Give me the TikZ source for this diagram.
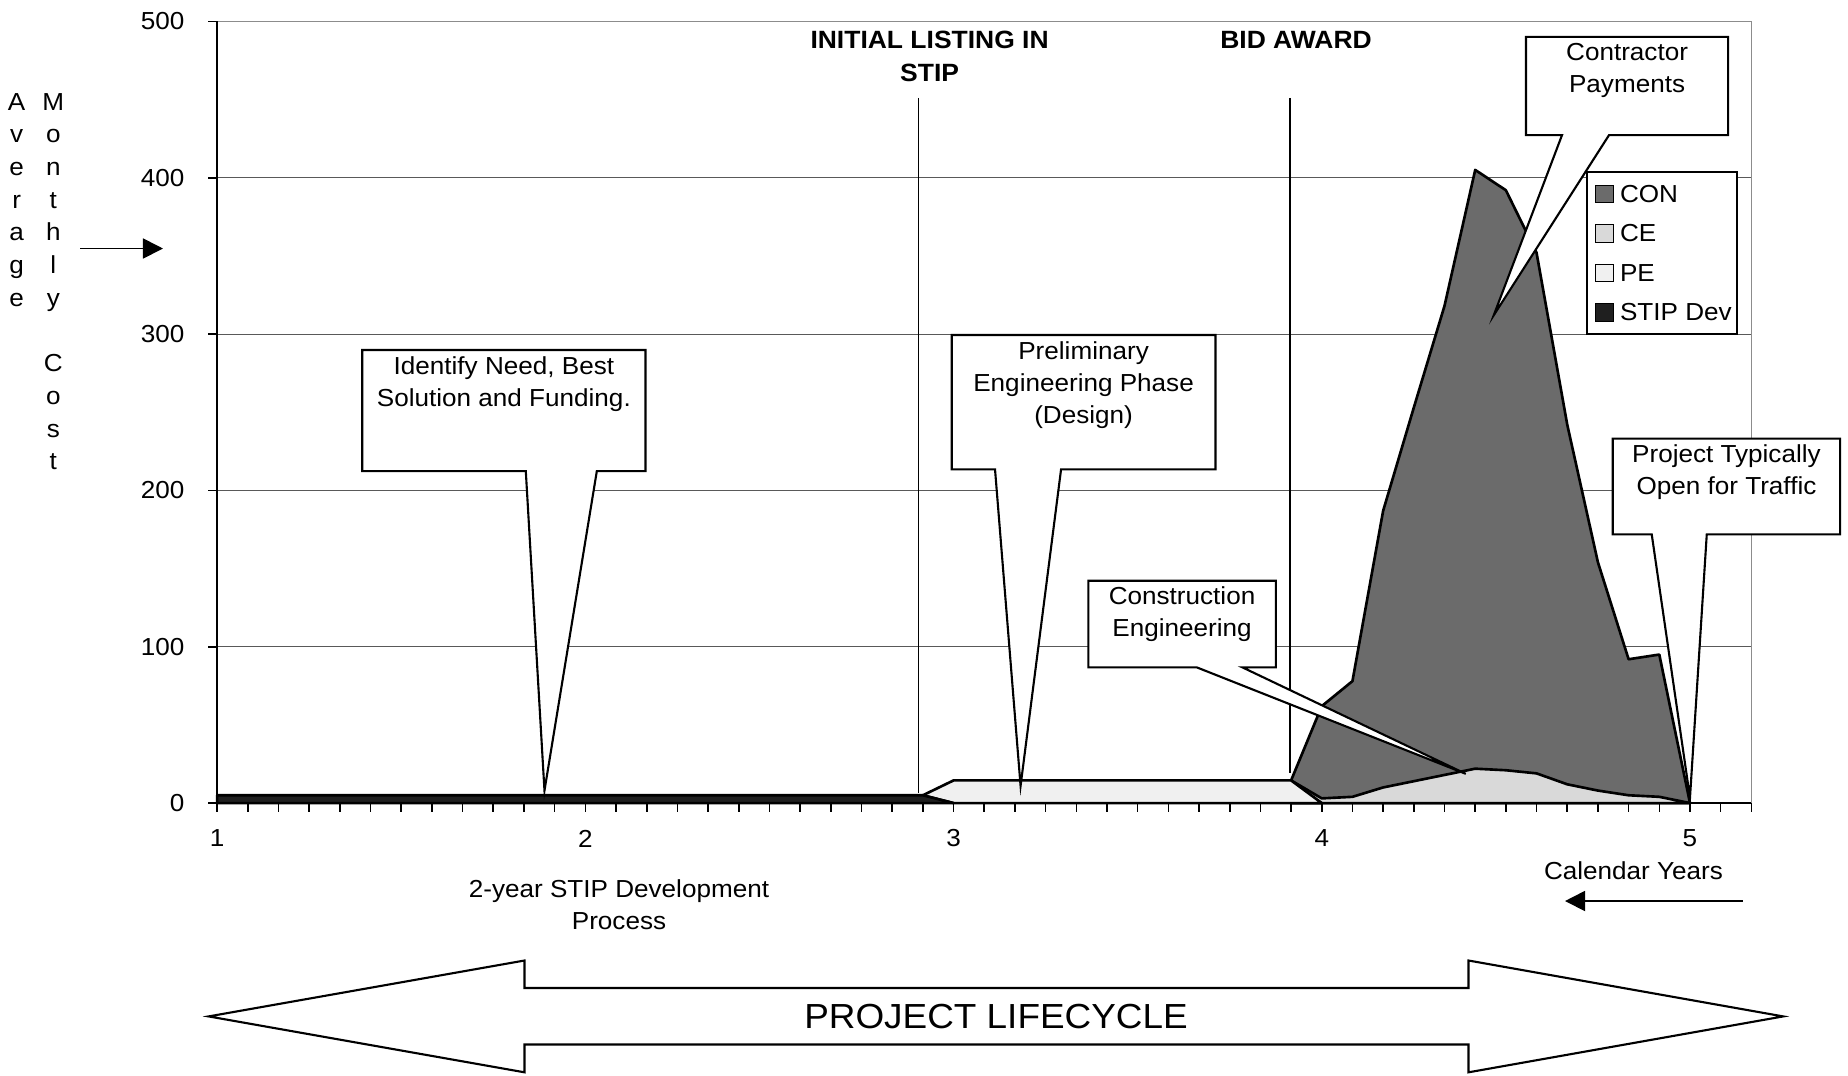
\documentclass[tikz,border=0pt]{standalone}
\usepackage{fontspec}
\setmainfont{Liberation Sans}[FakeStretch=1.06]
\usetikzlibrary{arrows.meta,calc}

\colorlet{confill}{black!58}
\colorlet{cefill}{black!15}
\colorlet{pefill}{black!6}
\colorlet{stipfill}{black!88}

\newcommand{\chartfont}{\fontsize{7}{9.1}\selectfont}
\newcommand{\headfont}{\fontsize{7.1}{9.3}\selectfont\bfseries}
\newcommand{\lifefont}{\fontsize{9.9}{12}\selectfont}

% box outline with its wedge: #1 box, #2/#3 base of wedge from the left side, #4 tip
\newcommand{\calloutpointer}[4]{%
  \fill[white] ([xshift=#2]#1.south west) -- (#4) -- ([xshift=#3]#1.south west) -- cycle;
  \draw[callout line] ([xshift=#2]#1.south west) -- (#4) -- ([xshift=#3]#1.south west)
    -- (#1.south east) -- (#1.north east) -- (#1.north west) -- (#1.south west) -- cycle;
}

\tikzset{
  grid line/.style={black!65, line width=0.3pt},
  frame line/.style={black!45, line width=0.4pt},
  axis line/.style={black, line width=0.45pt},
  area line/.style={draw=black, line width=0.75pt, line join=round},
  marker line/.style={black, line width=0.4pt},
  callout box/.style={fill=white, inner sep=0pt, outer sep=0pt, anchor=north west},
  callout line/.style={line width=0.6pt, line join=miter},
  callout text/.style={font=\chartfont, align=center, anchor=north, inner sep=0pt},
  head text/.style={font=\headfont, align=center, anchor=north, inner sep=0pt},
  legend key/.style={draw, line width=0.35pt, minimum size=0.176cm, inner sep=0pt},
  legend label/.style={anchor=west, inner sep=0pt},
  pointer arrow/.style={line width=0.5pt, -{Triangle[length=0.2cm, width=0.2cm]}}
}

\begin{document}
\begin{tikzpicture}[x=0.01cm, y=-0.01cm, every node/.style={font=\chartfont}]
\useasboundingbox (0,0) rectangle (1848,1075);

% chart, in years and cost
\begin{scope}[shift={(-1.51cm,-8.026cm)}, x=3.68cm, y=0.01563cm]
\foreach \v in {100,200,300,400}
  \draw[grid line] (1,\v) -- (5.1667,\v);
\draw[frame line] (1,500) -- (5.1667,500) -- (5.1667,0);
\draw[axis line] (1,0) -- (1,500);
\draw[axis line] (1,0) -- (5.1667,0);
\foreach \v in {0,100,...,500} {
  \draw[axis line] (1,\v) -- ++(-0.09cm,0);
  \node[anchor=east, inner sep=0pt] (ylab\v) at ([xshift=-0.32cm]1,\v) {\v};
}
\foreach \m in {0,...,50}
  \draw[axis line] ({1+\m/12},0) -- ++(0,-0.085cm);
\foreach \k in {1,...,5}
  \node (xlab\k) at (\k,-22.6) {\k};

% stacked areas
\filldraw[fill=confill, area line] (3.9167,14.5) -- (4,62) -- (4.0833,78) -- (4.1667,187)
  -- (4.25,253) -- (4.3333,318) -- (4.4167,405) -- (4.5,392) -- (4.5833,352)
  -- (4.6667,242) -- (4.75,154) -- (4.8333,92) -- (4.9167,95) -- (5,0)
  -- (3.9167,0) -- cycle;
\filldraw[fill=cefill, area line] (3.9167,14.5) -- (4,3) -- (4.0833,4) -- (4.1667,10)
  -- (4.25,14) -- (4.3333,18) -- (4.4167,22) -- (4.5,21) -- (4.5833,19)
  -- (4.6667,12) -- (4.75,8) -- (4.8333,5) -- (4.9167,4) -- (5,0)
  -- (3.9167,0) -- cycle;
\filldraw[fill=pefill, area line] (2.9167,5) -- (3,14.5) -- (3.9167,14.5) -- (4,0)
  -- (3,0) -- cycle;
\filldraw[fill=stipfill, area line] (1,0) -- (1,5) -- (2.9167,5) -- (3,0) -- cycle;
\draw[area line] (5,0) -- (5.1667,0);

% milestones
\draw[marker line] (2.905,451) -- (2.905,6.5);
\draw[marker line] (3.914,451) -- (3.914,19.5);

\coordinate (needtip) at (1.889,8);
\coordinate (designtip) at (3.182,11);
\coordinate (cetip) at (4.391,18.7);
\coordinate (contip) at (4.467,312);
\coordinate (opentip) at (5.0,3.4);
\end{scope}

\node[head text] (listing) at (929.6,30.3) {INITIAL LISTING IN\\STIP};
\node[head text] (bidaward) at (1296,30.3) {BID AWARD};

% callouts
\node[callout box, minimum width=2.83cm, minimum height=1.21cm] (need) at (362.3,350) {};
\node[callout text] (needtext) at ([yshift=-0.06cm]need.north) {Identify Need, Best\\Solution and Funding.};
\calloutpointer{need}{1.634cm}{2.344cm}{needtip}

\node[callout box, minimum width=2.636cm, minimum height=1.343cm] (design) at (951.7,335) {};
\node[callout text] (designtext) at ([yshift=-0.055cm]design.north) {Preliminary\\Engineering Phase\\(Design)};
\calloutpointer{design}{0.433cm}{1.093cm}{designtip}

\node[callout box, minimum width=1.874cm, minimum height=0.866cm] (ce) at (1088.3,580.7) {};
\node[callout text] (cetext) at ([yshift=-0.055cm]ce.north) {Construction\\Engineering};
\calloutpointer{ce}{1.084cm}{1.54cm}{cetip}

\node[callout box, minimum width=2.02cm, minimum height=0.982cm] (con) at (1526,36.8) {};
\node[callout text] (context) at ([yshift=-0.055cm]con.north) {Contractor\\Payments};
\calloutpointer{con}{0.36cm}{0.83cm}{contip}

\node[callout box, minimum width=2.273cm, minimum height=0.957cm] (open) at (1612.7,438.6) {};
\node[callout text] (opentext) at ([yshift=-0.055cm]open.north) {Project Typically\\Open for Traffic};
\calloutpointer{open}{0.39cm}{0.94cm}{opentip}

% legend
\node[callout box, draw, line width=0.35pt, minimum width=1.5cm, minimum height=1.62cm] (legend) at (1587,172) {};
\foreach \name/\col [count=\i from 0] in {CON/confill, CE/cefill, PE/pefill, STIP Dev/stipfill} {
  \node[legend key, fill=\col] (key\i) at (1604.5,{194+39.5*\i}) {};
  \node[legend label] (entry\i) at (1619.3,{194+39.5*\i}) {\name};
}

% axis titles
\foreach \ch [count=\i from 0] in {A,v,e,r,a,g,e}
  \node[anchor=base] (avg\i) at (16.7,{110+32.7*\i}) {\ch};
\foreach \ch [count=\i from 0] in {M,o,n,t,h,l,y}
  \node[anchor=base] (mon\i) at (53.3,{110+32.7*\i}) {\ch};
\foreach \ch [count=\i from 8] in {C,o,s,t}
  \node[anchor=base] (cost\i) at (53.3,{110+32.7*\i}) {\ch};
\coordinate (costtail) at (80,248.5);
\coordinate (costhead) at (163,248.5);
\draw[pointer arrow] (costtail) -- (costhead);

\node[align=center] (stipdev) at (619,904.6) {2-year STIP Development\\Process};
\node (calyears) at (1633.5,871) {Calendar Years};
\coordinate (caltail) at (1742.7,901);
\coordinate (calhead) at (1565,901);
\draw[pointer arrow] (caltail) -- (calhead);

% lifecycle arrow
\filldraw[fill=white, line width=0.6pt] (208.6,1016.4) -- (524.5,960.5) -- (524.5,988)
  -- (1468.5,988) -- (1468.5,960.5) -- (1783.2,1016.4) -- (1468.5,1072.3)
  -- (1468.5,1044.5) -- (524.5,1044.5) -- (524.5,1072.3) -- cycle;
\node[font=\lifefont] (lifecycle) at (996,1016.4) {PROJECT LIFECYCLE};
\end{tikzpicture}
\end{document}
